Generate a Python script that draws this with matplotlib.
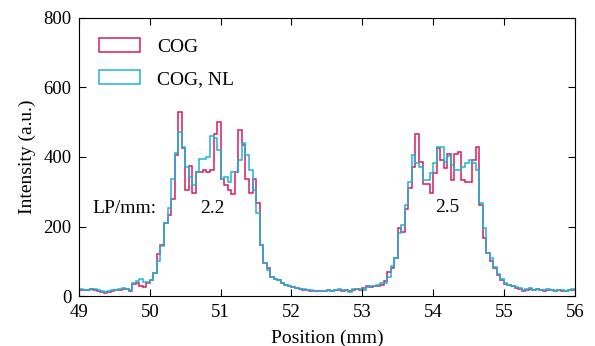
import numpy as np
import matplotlib
matplotlib.use("Agg")
import matplotlib.pyplot as plt
import matplotlib.patches as mpatches

plt.rcParams['font.family'] = ['Liberation Serif', 'DejaVu Serif']

# bins of 0.05 mm from 49.0 to 56.0
bin_lo, bin_hi, n_bins = 49.0, 56.0, 140

# COG intensity per bin (a.u.)
cog = [
    18, 17, 16, 20, 18, 15, 12, 10, 12, 15,
    17, 18, 21, 19, 13, 34, 38, 30, 26, 38,
    45, 65, 120, 148, 209, 233, 278, 406, 530, 425,
    305, 373, 295, 358, 358, 363, 358, 362, 465, 502,
    336, 320, 305, 293, 358, 478, 434, 337, 296, 336,
    269, 146, 94, 80, 56, 50, 45, 36, 31, 29,
    26, 22, 20, 18, 17, 15, 14, 14, 13, 14,
    16, 14, 17, 18, 15, 17, 13, 18, 20, 18,
    22, 28, 26, 30, 28, 32, 43, 70, 80, 108,
    195, 185, 249, 310, 372, 466, 387, 322, 322, 295,
    353, 425, 391, 367, 410, 334, 410, 415, 334, 329,
    329, 391, 428, 262, 166, 123, 100, 82, 60, 45,
    34, 31, 29, 22, 21, 14, 18, 20, 17, 19,
    16, 15, 18, 17, 14, 16, 15, 13, 16, 18,
]

# COG, NL intensity per bin (a.u.)
cog_nl = [
    20, 18, 17, 21, 19, 16, 13, 11, 13, 16,
    18, 19, 22, 20, 16, 36, 42, 48, 40, 40,
    46, 67, 102, 145, 209, 252, 336, 412, 473, 430,
    372, 343, 319, 358, 393, 393, 400, 460, 455, 420,
    336, 342, 328, 358, 358, 391, 440, 406, 362, 305,
    238, 146, 94, 75, 56, 48, 46, 38, 33, 29,
    27, 24, 21, 19, 18, 16, 15, 15, 14, 15,
    17, 15, 18, 19, 16, 18, 12, 19, 21, 19,
    18, 25, 30, 28, 32, 36, 38, 55, 85, 108,
    180, 204, 262, 329, 406, 382, 372, 334, 334, 353,
    382, 430, 430, 387, 403, 377, 363, 363, 372, 382,
    391, 382, 363, 267, 195, 123, 110, 84, 62, 48,
    36, 33, 30, 25, 22, 16, 20, 22, 18, 20,
    17, 16, 19, 18, 15, 17, 16, 14, 17, 19,
]

labels = ["COG", "COG, NL"]
colors = ["#d81b60", "#1fb1dc"]
xticks = [49, 50, 51, 52, 53, 54, 55, 56]
yticks = [0, 200, 400, 600, 800]

edges = np.linspace(bin_lo, bin_hi, n_bins + 1)

fig = plt.figure(figsize=(5.95, 3.46), dpi=100)
ax = fig.add_axes([0.1328, 0.1445, 0.8332, 0.8035])

ax.stairs(cog, edges, color=colors[0], linewidth=1.1, baseline=None)
ax.stairs(cog_nl, edges, color=colors[1], linewidth=1.1, baseline=None)

ax.set_xlim(bin_lo, bin_hi)
ax.set_ylim(0, 800)
ax.set_xticks(xticks)
ax.set_yticks(yticks)
ax.tick_params(direction='in', top=True, right=True, length=5, width=0.8,
               labelsize=13.5)
ax.tick_params(axis='y', pad=5.5)
ax.tick_params(axis='x', pad=6)
for s in ax.spines.values():
    s.set_linewidth(0.8)

ax.set_xlabel("Position (mm)", fontsize=14, labelpad=6)
ax.set_ylabel("Intensity (a.u.)", fontsize=14, labelpad=5)

ax.text(49.19, 252, "LP/mm:", fontsize=14, va='center', ha='left')
ax.text(50.88, 252, "2.2", fontsize=14, va='center', ha='center')
ax.text(54.2, 254, "2.5", fontsize=14, va='center', ha='center')

handles = [mpatches.Patch(facecolor='none', edgecolor=c, linewidth=1.1) for c in colors]
ax.legend(handles, labels, loc='upper left', frameon=False, fontsize=14,
          handlelength=2.1, handleheight=0.72, handletextpad=0.85,
          labelspacing=0.72, borderaxespad=0.65)

fig.savefig("out.png", dpi=100)
